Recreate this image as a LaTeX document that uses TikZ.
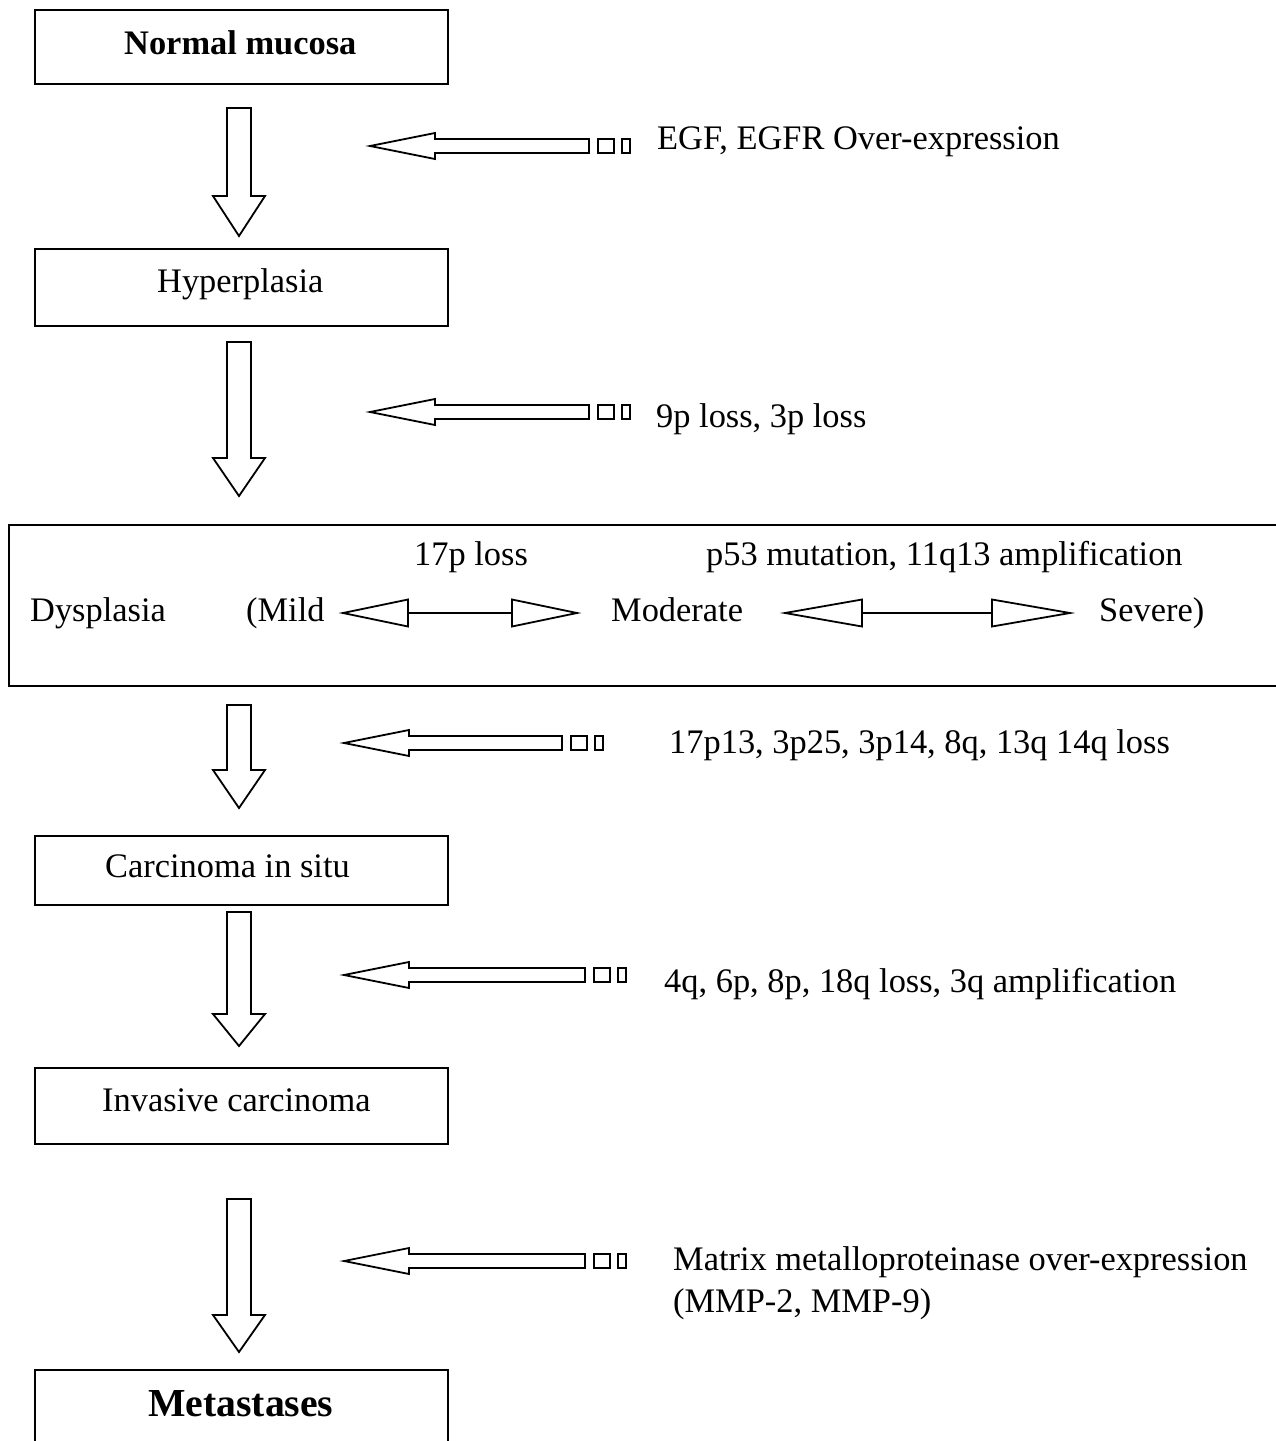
\documentclass[tikz,border=0pt]{standalone}
\usepackage{fontspec}
\setmainfont{Liberation Serif}
\newcommand\DownBlock[3]{% top, head y, tip
  \draw[blk] (227,#1) -- (251,#1) -- (251,#2) -- (265,#2) -- (239,#3) -- (213,#2) -- (227,#2) -- cycle;}
\newcommand\LeftBlock[3]{% tip x, y, shaft end x
  \draw[blk] (#1,#2) -- ({#1+65},{#2-13}) -- ({#1+65},{#2-7}) -- (#3,{#2-7}) -- (#3,{#2+7}) -- ({#1+65},{#2+7}) -- ({#1+65},{#2+13}) -- cycle;
  \draw[blk] ({#3+9},{#2-7}) rectangle ({#3+25},{#2+7});
  \draw[blk] ({#3+33},{#2-7}) rectangle ({#3+41},{#2+7});}
\newcommand\TwoWay[5]{% left tip, left back, right back, right tip, y
  \draw[blk] (#1,#5) -- (#2,{#5-13.5}) -- (#2,{#5+13.5}) -- cycle;
  \draw[blk] (#2,#5) -- (#3,#5);
  \draw[blk] (#4,#5) -- (#3,{#5-13.5}) -- (#3,{#5+13.5}) -- cycle;}
\begin{document}
\begin{tikzpicture}[x=1pt,y=-1pt,
  box/.style={draw, line width=2.2pt, anchor=north west, inner sep=0pt, minimum width=413pt},
  lbl/.style={font=\fontsize{34.4}{40}\selectfont, inner sep=0pt, anchor=base west},
  bigbold/.style={font=\fontsize{34.4}{40}\selectfont\bfseries, inner sep=0pt, anchor=base west},
  blk/.style={draw, line width=1.8pt, line join=miter, fill=white}]
\useasboundingbox (0,0) rectangle (1276,1441);
% boxes
\node[box, minimum height=74pt] (normal) at (34,9) {};
\node[box, minimum height=77pt] (hyper) at (34,248) {};
\node[box, minimum height=161pt, minimum width=1290pt] (dysbox) at (8,524) {};
\node[box, minimum height=69pt] (cis) at (34,835) {};
\node[box, minimum height=76pt] (inv) at (34,1067) {};
\node[box, minimum height=120pt] (met) at (34,1369) {};
% box texts
\node[bigbold] (tnormal) at (124,54) {Normal mucosa};
\node[lbl] (thyper) at (157,292) {Hyperplasia};
\node[lbl] (tdys) at (30,621) {Dysplasia};
\node[lbl] (tmild) at (246,621) {(Mild};
\node[lbl] (tmod) at (611,621) {Moderate};
\node[lbl] (tsev) at (1099,621) {Severe)};
\node[lbl] (t17p) at (414,565) {17p loss};
\node[lbl] (tp53) at (706,565) {p53 mutation, 11q13 amplification};
\node[lbl] (tcis) at (105,877) {Carcinoma in situ};
\node[lbl] (tinv) at (102,1111) {Invasive carcinoma};
\node[font=\fontsize{39.7}{46}\selectfont\bfseries, inner sep=0pt, anchor=base west] (tmet) at (148,1416) {Metastases};
% side texts
\node[lbl] (tegf) at (657,149) {EGF, EGFR Over-expression};
\node[lbl] (t9p) at (656,427) {9p loss, 3p loss};
\node[lbl] (t17p13) at (669,753) {17p13, 3p25, 3p14, 8q, 13q 14q loss};
\node[lbl] (t4q) at (664,992) {4q, 6p, 8p, 18q loss, 3q amplification};
\node[lbl] (tmmp) at (673,1270) {Matrix metalloproteinase over-expression};
\node[lbl] (tmmp2) at (673,1312) {(MMP-2, MMP-9)};
% down block arrows
\DownBlock{108}{196}{236}
\DownBlock{342}{458}{496}
\DownBlock{705}{770}{808}
\DownBlock{912}{1014}{1046}
\DownBlock{1199}{1315}{1352}
% left block arrows
\LeftBlock{370}{146}{589}
\LeftBlock{370}{412}{589}
\LeftBlock{344}{743}{562}
\LeftBlock{344}{975}{585}
\LeftBlock{344}{1261}{585}
% dysplasia two-way arrows
\TwoWay{343}{408}{512}{577}{613}
\TwoWay{785}{862}{992}{1070}{613}
\end{tikzpicture}
\end{document}
